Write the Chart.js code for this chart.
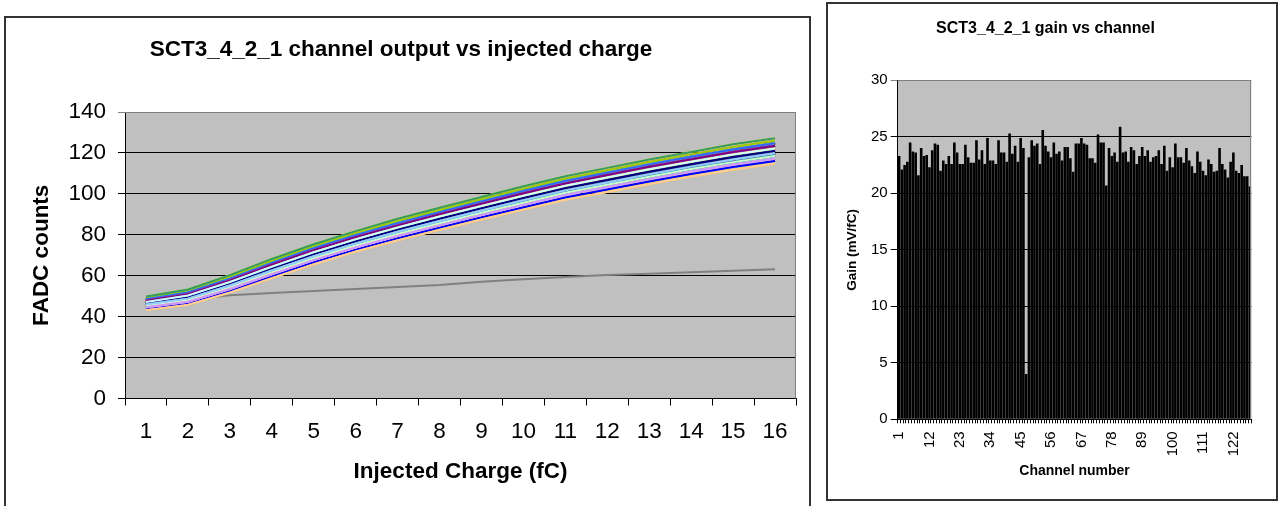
<!DOCTYPE html>
<html>
<head>
<meta charset="utf-8">
<script src="https://cdn.jsdelivr.net/npm/chart.js@4.4.0/dist/chart.umd.min.js"></script>
<style>
    body {
        margin: 0;
        width: 1278px;
        height: 506px;
        overflow: hidden;
        position: relative;
        background: #fff;
    }
    .frame {
        position: absolute;
        border: 2px solid #333;
        box-sizing: border-box;
    }
    #outputFrame { left: 4px; top: 16px; width: 807px; height: 520px; }
    #gainFrame { left: 826px; top: 2px; width: 452px; height: 499px; }
    canvas { position: absolute; }
    #outputChart { left: 6px; top: 18px; }
    #gainChart { left: 828px; top: 4px; }
</style>
</head>
<body>
<div class="frame" id="outputFrame"></div>
<div class="frame" id="gainFrame"></div>
<canvas id="outputChart" width="803" height="488"></canvas>
<canvas id="gainChart" width="448" height="495"></canvas>
<script>
// Заряд инжекции, fC
const charges = ['1', '2', '3', '4', '5', '6', '7', '8', '9', '10', '11', '12', '13', '14', '15', '16'];

// Отклик FADC по каналам (каналы 1..128)
const channelOutput = [
    [46.5,49.5,56.0,63.5,70.5,76.8,82.5,87.8,93.0,98.0,102.8,106.8,110.8,114.5,118.0,121.0],
    [45.2,48.0,54.3,61.6,68.5,74.8,80.4,85.6,90.8,95.7,100.5,104.4,108.4,112.1,115.5,118.5],
    [45.9,48.8,55.2,62.6,69.5,75.8,81.5,86.7,91.9,96.9,101.7,105.6,109.6,113.3,116.8,119.8],
    [45.9,48.8,55.2,62.6,69.5,75.8,81.5,86.7,91.9,96.9,101.7,105.6,109.6,113.3,116.8,119.8],
    [48.5,51.8,58.6,66.3,73.4,79.8,85.7,91.0,96.3,101.4,106.3,110.3,114.4,118.1,121.7,124.7],
    [47.2,50.3,56.9,64.4,71.5,77.8,83.6,88.9,94.1,99.1,104.0,108.0,112.0,115.7,119.2,122.2],
    [47.2,50.3,56.9,64.4,71.5,77.8,83.6,88.9,94.1,99.1,104.0,108.0,112.0,115.7,119.2,122.2],
    [44.6,47.3,53.5,60.7,67.6,73.8,79.4,84.6,89.7,94.6,99.4,103.3,107.2,110.9,114.3,117.3],
    [47.8,51.0,57.7,65.4,72.5,78.8,84.6,90.0,95.2,100.3,105.1,109.2,113.2,116.9,120.5,123.5],
    [46.5,49.5,56.0,63.5,70.5,76.8,82.5,87.8,93.0,98.0,102.8,106.8,110.8,114.5,118.0,121.0],
    [46.5,49.5,56.0,63.5,70.5,76.8,82.5,87.8,93.0,98.0,102.8,106.8,110.8,114.5,118.0,121.0],
    [45.2,48.0,54.3,61.6,68.5,74.8,80.4,85.6,90.8,95.7,100.5,104.4,108.4,112.1,115.5,118.5],
    [47.2,50.3,56.9,64.4,71.5,77.8,83.6,88.9,94.1,99.1,104.0,108.0,112.0,115.7,119.2,122.2],
    [47.8,51.0,57.7,65.4,72.5,78.8,84.6,90.0,95.2,100.3,105.1,109.2,113.2,116.9,120.5,123.5],
    [47.8,51.0,57.7,65.4,72.5,78.8,84.6,90.0,95.2,100.3,105.1,109.2,113.2,116.9,120.5,123.5],
    [45.2,48.0,54.3,61.6,68.5,74.8,80.4,85.6,90.8,95.7,100.5,104.4,108.4,112.1,115.5,118.5],
    [45.9,48.8,55.2,62.6,69.5,75.8,81.5,86.7,91.9,96.9,101.7,105.6,109.6,113.3,116.8,119.8],
    [45.9,48.8,55.2,62.6,69.5,75.8,81.5,86.7,91.9,96.9,101.7,105.6,109.6,113.3,116.8,119.8],
    [46.5,49.5,56.0,63.5,70.5,76.8,82.5,87.8,93.0,98.0,102.8,106.8,110.8,114.5,118.0,121.0],
    [45.9,48.8,55.2,62.6,69.5,75.8,81.5,86.7,91.9,96.9,101.7,105.6,109.6,113.3,116.8,119.8],
    [48.5,51.8,58.6,66.3,73.4,79.8,85.7,91.0,96.3,101.4,106.3,110.3,114.4,118.1,121.7,124.7],
    [47.2,50.3,56.9,64.4,71.5,77.8,83.6,88.9,94.1,99.1,104.0,108.0,112.0,115.7,119.2,122.2],
    [45.9,48.8,55.2,62.6,69.5,75.8,81.5,86.7,91.9,96.9,101.7,105.6,109.6,113.3,116.8,119.8],
    [45.9,48.8,55.2,62.6,69.5,75.8,81.5,86.7,91.9,96.9,101.7,105.6,109.6,113.3,116.8,119.8],
    [47.8,51.0,57.7,65.4,72.5,78.8,84.6,90.0,95.2,100.3,105.1,109.2,113.2,116.9,120.5,123.5],
    [46.5,49.5,56.0,63.5,70.5,76.8,82.5,87.8,93.0,98.0,102.8,106.8,110.8,114.5,118.0,121.0],
    [45.9,48.8,55.2,62.6,69.5,75.8,81.5,86.7,91.9,96.9,101.7,105.6,109.6,113.3,116.8,119.8],
    [45.9,48.8,55.2,62.6,69.5,75.8,81.5,86.7,91.9,96.9,101.7,105.6,109.6,113.3,116.8,119.8],
    [48.5,51.8,58.6,66.3,73.4,79.8,85.7,91.0,96.3,101.4,106.3,110.3,114.4,118.1,121.7,124.7],
    [46.5,49.5,56.0,63.5,70.5,76.8,82.5,87.8,93.0,98.0,102.8,106.8,110.8,114.5,118.0,121.0],
    [47.2,50.3,56.9,64.4,71.5,77.8,83.6,88.9,94.1,99.1,104.0,108.0,112.0,115.7,119.2,122.2],
    [45.9,48.8,55.2,62.6,69.5,75.8,81.5,86.7,91.9,96.9,101.7,105.6,109.6,113.3,116.8,119.8],
    [48.5,51.8,58.6,66.3,73.4,79.8,85.7,91.0,96.3,101.4,106.3,110.3,114.4,118.1,121.7,124.7],
    [45.9,48.8,55.2,62.6,69.5,75.8,81.5,86.7,91.9,96.9,101.7,105.6,109.6,113.3,116.8,119.8],
    [45.9,48.8,55.2,62.6,69.5,75.8,81.5,86.7,91.9,96.9,101.7,105.6,109.6,113.3,116.8,119.8],
    [45.9,48.8,55.2,62.6,69.5,75.8,81.5,86.7,91.9,96.9,101.7,105.6,109.6,113.3,116.8,119.8],
    [48.5,51.8,58.6,66.3,73.4,79.8,85.7,91.0,96.3,101.4,106.3,110.3,114.4,118.1,121.7,124.7],
    [47.2,50.3,56.9,64.4,71.5,77.8,83.6,88.9,94.1,99.1,104.0,108.0,112.0,115.7,119.2,122.2],
    [47.2,50.3,56.9,64.4,71.5,77.8,83.6,88.9,94.1,99.1,104.0,108.0,112.0,115.7,119.2,122.2],
    [45.9,48.8,55.2,62.6,69.5,75.8,81.5,86.7,91.9,96.9,101.7,105.6,109.6,113.3,116.8,119.8],
    [49.1,52.5,59.4,67.2,74.4,80.8,86.7,92.1,97.4,102.5,107.4,111.5,115.6,119.3,122.9,125.9],
    [47.2,50.3,56.9,64.4,71.5,77.8,83.6,88.9,94.1,99.1,104.0,108.0,112.0,115.7,119.2,122.2],
    [47.8,51.0,57.7,65.4,72.5,78.8,84.6,90.0,95.2,100.3,105.1,109.2,113.2,116.9,120.5,123.5],
    [45.9,48.8,55.2,62.6,69.5,75.8,81.5,86.7,91.9,96.9,101.7,105.6,109.6,113.3,116.8,119.8],
    [48.5,51.8,58.6,66.3,73.4,79.8,85.7,91.0,96.3,101.4,106.3,110.3,114.4,118.1,121.7,124.7],
    [47.8,51.0,57.7,65.4,72.5,78.8,84.6,90.0,95.2,100.3,105.1,109.2,113.2,116.9,120.5,123.5],
    [46.0,48.0,50.5,51.5,52.5,53.5,54.5,55.5,57.0,58.3,59.4,60.3,61.0,61.7,62.4,63.2],
    [46.5,49.5,56.0,63.5,70.5,76.8,82.5,87.8,93.0,98.0,102.8,106.8,110.8,114.5,118.0,121.0],
    [48.5,51.8,58.6,66.3,73.4,79.8,85.7,91.0,96.3,101.4,106.3,110.3,114.4,118.1,121.7,124.7],
    [47.8,51.0,57.7,65.4,72.5,78.8,84.6,90.0,95.2,100.3,105.1,109.2,113.2,116.9,120.5,123.5],
    [47.8,51.0,57.7,65.4,72.5,78.8,84.6,90.0,95.2,100.3,105.1,109.2,113.2,116.9,120.5,123.5],
    [45.9,48.8,55.2,62.6,69.5,75.8,81.5,86.7,91.9,96.9,101.7,105.6,109.6,113.3,116.8,119.8],
    [49.8,53.3,60.3,68.2,75.4,81.8,87.8,93.2,98.5,103.7,108.6,112.7,116.8,120.5,124.2,127.2],
    [47.8,51.0,57.7,65.4,72.5,78.8,84.6,90.0,95.2,100.3,105.1,109.2,113.2,116.9,120.5,123.5],
    [47.2,50.3,56.9,64.4,71.5,77.8,83.6,88.9,94.1,99.1,104.0,108.0,112.0,115.7,119.2,122.2],
    [46.5,49.5,56.0,63.5,70.5,76.8,82.5,87.8,93.0,98.0,102.8,106.8,110.8,114.5,118.0,121.0],
    [48.5,51.8,58.6,66.3,73.4,79.8,85.7,91.0,96.3,101.4,106.3,110.3,114.4,118.1,121.7,124.7],
    [47.2,50.3,56.9,64.4,71.5,77.8,83.6,88.9,94.1,99.1,104.0,108.0,112.0,115.7,119.2,122.2],
    [47.2,50.3,56.9,64.4,71.5,77.8,83.6,88.9,94.1,99.1,104.0,108.0,112.0,115.7,119.2,122.2],
    [45.9,48.8,55.2,62.6,69.5,75.8,81.5,86.7,91.9,96.9,101.7,105.6,109.6,113.3,116.8,119.8],
    [47.8,51.0,57.7,65.4,72.5,78.8,84.6,90.0,95.2,100.3,105.1,109.2,113.2,116.9,120.5,123.5],
    [47.8,51.0,57.7,65.4,72.5,78.8,84.6,90.0,95.2,100.3,105.1,109.2,113.2,116.9,120.5,123.5],
    [46.5,49.5,56.0,63.5,70.5,76.8,82.5,87.8,93.0,98.0,102.8,106.8,110.8,114.5,118.0,121.0],
    [44.6,47.3,53.5,60.7,67.6,73.8,79.4,84.6,89.7,94.6,99.4,103.3,107.2,110.9,114.3,117.3],
    [47.8,51.0,57.7,65.4,72.5,78.8,84.6,90.0,95.2,100.3,105.1,109.2,113.2,116.9,120.5,123.5],
    [47.8,51.0,57.7,65.4,72.5,78.8,84.6,90.0,95.2,100.3,105.1,109.2,113.2,116.9,120.5,123.5],
    [48.5,51.8,58.6,66.3,73.4,79.8,85.7,91.0,96.3,101.4,106.3,110.3,114.4,118.1,121.7,124.7],
    [47.8,51.0,57.7,65.4,72.5,78.8,84.6,90.0,95.2,100.3,105.1,109.2,113.2,116.9,120.5,123.5],
    [47.8,51.0,57.7,65.4,72.5,78.8,84.6,90.0,95.2,100.3,105.1,109.2,113.2,116.9,120.5,123.5],
    [46.5,49.5,56.0,63.5,70.5,76.8,82.5,87.8,93.0,98.0,102.8,106.8,110.8,114.5,118.0,121.0],
    [46.5,49.5,56.0,63.5,70.5,76.8,82.5,87.8,93.0,98.0,102.8,106.8,110.8,114.5,118.0,121.0],
    [45.9,48.8,55.2,62.6,69.5,75.8,81.5,86.7,91.9,96.9,101.7,105.6,109.6,113.3,116.8,119.8],
    [49.1,52.5,59.4,67.2,74.4,80.8,86.7,92.1,97.4,102.5,107.4,111.5,115.6,119.3,122.9,125.9],
    [48.5,51.8,58.6,66.3,73.4,79.8,85.7,91.0,96.3,101.4,106.3,110.3,114.4,118.1,121.7,124.7],
    [48.5,51.8,58.6,66.3,73.4,79.8,85.7,91.0,96.3,101.4,106.3,110.3,114.4,118.1,121.7,124.7],
    [43.3,45.8,51.8,58.8,65.6,71.8,77.3,82.4,87.5,92.3,97.1,100.9,104.8,108.5,111.8,114.8],
    [47.8,51.0,57.7,65.4,72.5,78.8,84.6,90.0,95.2,100.3,105.1,109.2,113.2,116.9,120.5,123.5],
    [46.5,49.5,56.0,63.5,70.5,76.8,82.5,87.8,93.0,98.0,102.8,106.8,110.8,114.5,118.0,121.0],
    [47.2,50.3,56.9,64.4,71.5,77.8,83.6,88.9,94.1,99.1,104.0,108.0,112.0,115.7,119.2,122.2],
    [45.9,48.8,55.2,62.6,69.5,75.8,81.5,86.7,91.9,96.9,101.7,105.6,109.6,113.3,116.8,119.8],
    [49.8,53.3,60.3,68.2,75.4,81.8,87.8,93.2,98.5,103.7,108.6,112.7,116.8,120.5,124.2,127.2],
    [47.2,50.3,56.9,64.4,71.5,77.8,83.6,88.9,94.1,99.1,104.0,108.0,112.0,115.7,119.2,122.2],
    [47.2,50.3,56.9,64.4,71.5,77.8,83.6,88.9,94.1,99.1,104.0,108.0,112.0,115.7,119.2,122.2],
    [45.9,48.8,55.2,62.6,69.5,75.8,81.5,86.7,91.9,96.9,101.7,105.6,109.6,113.3,116.8,119.8],
    [47.8,51.0,57.7,65.4,72.5,78.8,84.6,90.0,95.2,100.3,105.1,109.2,113.2,116.9,120.5,123.5],
    [47.2,50.3,56.9,64.4,71.5,77.8,83.6,88.9,94.1,99.1,104.0,108.0,112.0,115.7,119.2,122.2],
    [45.9,48.8,55.2,62.6,69.5,75.8,81.5,86.7,91.9,96.9,101.7,105.6,109.6,113.3,116.8,119.8],
    [46.5,49.5,56.0,63.5,70.5,76.8,82.5,87.8,93.0,98.0,102.8,106.8,110.8,114.5,118.0,121.0],
    [47.8,51.0,57.7,65.4,72.5,78.8,84.6,90.0,95.2,100.3,105.1,109.2,113.2,116.9,120.5,123.5],
    [46.5,49.5,56.0,63.5,70.5,76.8,82.5,87.8,93.0,98.0,102.8,106.8,110.8,114.5,118.0,121.0],
    [47.2,50.3,56.9,64.4,71.5,77.8,83.6,88.9,94.1,99.1,104.0,108.0,112.0,115.7,119.2,122.2],
    [45.9,48.8,55.2,62.6,69.5,75.8,81.5,86.7,91.9,96.9,101.7,105.6,109.6,113.3,116.8,119.8],
    [46.5,49.5,56.0,63.5,70.5,76.8,82.5,87.8,93.0,98.0,102.8,106.8,110.8,114.5,118.0,121.0],
    [46.5,49.5,56.0,63.5,70.5,76.8,82.5,87.8,93.0,98.0,102.8,106.8,110.8,114.5,118.0,121.0],
    [47.2,50.3,56.9,64.4,71.5,77.8,83.6,88.9,94.1,99.1,104.0,108.0,112.0,115.7,119.2,122.2],
    [45.9,48.8,55.2,62.6,69.5,75.8,81.5,86.7,91.9,96.9,101.7,105.6,109.6,113.3,116.8,119.8],
    [47.8,51.0,57.7,65.4,72.5,78.8,84.6,90.0,95.2,100.3,105.1,109.2,113.2,116.9,120.5,123.5],
    [45.2,48.0,54.3,61.6,68.5,74.8,80.4,85.6,90.8,95.7,100.5,104.4,108.4,112.1,115.5,118.5],
    [46.5,49.5,56.0,63.5,70.5,76.8,82.5,87.8,93.0,98.0,102.8,106.8,110.8,114.5,118.0,121.0],
    [45.2,48.0,54.3,61.6,68.5,74.8,80.4,85.6,90.8,95.7,100.5,104.4,108.4,112.1,115.5,118.5],
    [47.8,51.0,57.7,65.4,72.5,78.8,84.6,90.0,95.2,100.3,105.1,109.2,113.2,116.9,120.5,123.5],
    [46.5,49.5,56.0,63.5,70.5,76.8,82.5,87.8,93.0,98.0,102.8,106.8,110.8,114.5,118.0,121.0],
    [46.5,49.5,56.0,63.5,70.5,76.8,82.5,87.8,93.0,98.0,102.8,106.8,110.8,114.5,118.0,121.0],
    [45.9,48.8,55.2,62.6,69.5,75.8,81.5,86.7,91.9,96.9,101.7,105.6,109.6,113.3,116.8,119.8],
    [47.8,51.0,57.7,65.4,72.5,78.8,84.6,90.0,95.2,100.3,105.1,109.2,113.2,116.9,120.5,123.5],
    [45.9,48.8,55.2,62.6,69.5,75.8,81.5,86.7,91.9,96.9,101.7,105.6,109.6,113.3,116.8,119.8],
    [45.2,48.0,54.3,61.6,68.5,74.8,80.4,85.6,90.8,95.7,100.5,104.4,108.4,112.1,115.5,118.5],
    [44.6,47.3,53.5,60.7,67.6,73.8,79.4,84.6,89.7,94.6,99.4,103.3,107.2,110.9,114.3,117.3],
    [47.2,50.3,56.9,64.4,71.5,77.8,83.6,88.9,94.1,99.1,104.0,108.0,112.0,115.7,119.2,122.2],
    [45.9,48.8,55.2,62.6,69.5,75.8,81.5,86.7,91.9,96.9,101.7,105.6,109.6,113.3,116.8,119.8],
    [45.2,48.0,54.3,61.6,68.5,74.8,80.4,85.6,90.8,95.7,100.5,104.4,108.4,112.1,115.5,118.5],
    [44.6,47.3,53.5,60.7,67.6,73.8,79.4,84.6,89.7,94.6,99.4,103.3,107.2,110.9,114.3,117.3],
    [46.5,49.5,56.0,63.5,70.5,76.8,82.5,87.8,93.0,98.0,102.8,106.8,110.8,114.5,118.0,121.0],
    [45.9,48.8,55.2,62.6,69.5,75.8,81.5,86.7,91.9,96.9,101.7,105.6,109.6,113.3,116.8,119.8],
    [44.6,47.3,53.5,60.7,67.6,73.8,79.4,84.6,89.7,94.6,99.4,103.3,107.2,110.9,114.3,117.3],
    [45.2,48.0,54.3,61.6,68.5,74.8,80.4,85.6,90.8,95.7,100.5,104.4,108.4,112.1,115.5,118.5],
    [47.8,51.0,57.7,65.4,72.5,78.8,84.6,90.0,95.2,100.3,105.1,109.2,113.2,116.9,120.5,123.5],
    [45.9,48.8,55.2,62.6,69.5,75.8,81.5,86.7,91.9,96.9,101.7,105.6,109.6,113.3,116.8,119.8],
    [45.2,48.0,54.3,61.6,68.5,74.8,80.4,85.6,90.8,95.7,100.5,104.4,108.4,112.1,115.5,118.5],
    [43.9,46.5,52.6,59.8,66.6,72.8,78.3,83.5,88.6,93.5,98.2,102.1,106.0,109.7,113.1,116.1],
    [45.9,48.8,55.2,62.6,69.5,75.8,81.5,86.7,91.9,96.9,101.7,105.6,109.6,113.3,116.8,119.8],
    [47.2,50.3,56.9,64.4,71.5,77.8,83.6,88.9,94.1,99.1,104.0,108.0,112.0,115.7,119.2,122.2],
    [45.2,48.0,54.3,61.6,68.5,74.8,80.4,85.6,90.8,95.7,100.5,104.4,108.4,112.1,115.5,118.5],
    [44.6,47.3,53.5,60.7,67.6,73.8,79.4,84.6,89.7,94.6,99.4,103.3,107.2,110.9,114.3,117.3],
    [45.9,48.8,55.2,62.6,69.5,75.8,81.5,86.7,91.9,96.9,101.7,105.6,109.6,113.3,116.8,119.8],
    [44.6,47.3,53.5,60.7,67.6,73.8,79.4,84.6,89.7,94.6,99.4,103.3,107.2,110.9,114.3,117.3],
    [44.6,47.3,53.5,60.7,67.6,73.8,79.4,84.6,89.7,94.6,99.4,103.3,107.2,110.9,114.3,117.3],
    [43.3,45.8,51.8,58.8,65.6,71.8,77.3,82.4,87.5,92.3,97.1,100.9,104.8,108.5,111.8,114.8]
];

// Номера каналов
const channels = Array.from({ length: 128 }, (_, i) => String(i + 1));

// Усиление по каналам, mV/fC
const gains = [
    23.3, 22.1, 22.5, 22.8, 24.5, 23.7, 23.6, 21.6, 24.0, 23.3,
    23.4, 22.3, 23.8, 24.4, 24.3, 22.0, 22.9, 22.6, 23.3, 22.6,
    24.5, 23.6, 22.6, 22.6, 24.3, 23.2, 22.7, 22.7, 24.7, 23.0,
    23.8, 22.6, 24.9, 22.9, 22.9, 22.6, 24.7, 23.6, 23.6, 22.8,
    25.3, 23.5, 24.2, 22.8, 24.9, 24.0, 4.0, 23.2, 24.7, 24.2,
    24.4, 22.6, 25.6, 24.2, 23.7, 23.2, 24.5, 23.5, 23.7, 22.9,
    24.1, 24.1, 23.1, 21.9, 24.4, 24.4, 24.9, 24.4, 24.3, 23.1,
    23.1, 22.7, 25.2, 24.5, 24.5, 20.7, 24.0, 23.3, 23.6, 22.8,
    25.9, 23.6, 23.7, 22.8, 24.1, 23.8, 22.6, 23.3, 24.1, 23.3,
    23.8, 22.8, 23.2, 23.3, 23.8, 22.6, 24.2, 22.0, 23.2, 22.3,
    24.4, 23.2, 23.2, 22.7, 24.0, 22.9, 22.4, 21.8, 23.7, 22.8,
    22.0, 21.6, 23.0, 22.6, 21.9, 22.0, 24.0, 22.6, 22.1, 21.4,
    22.8, 23.6, 22.0, 21.8, 22.5, 21.5, 21.5, 20.6
];

// Цвета серий (по кругу на 56 каналов)
const seriesColors = [
    '#000080', '#FF00FF', '#660066', '#00FFFF', '#800080', '#800000', '#008080', '#0000FF',
    '#00CCFF', '#CCFFFF', '#CCFFCC', '#FFFF99', '#99CCFF', '#FF99CC', '#CC99FF', '#FFCC99',
    '#99CC00', '#33CCCC', '#3366FF', '#FFCC00', '#FF9900', '#FF6600', '#666699', '#969696',
    '#339966', '#003366', '#003300', '#333300', '#993300', '#993366', '#333399', '#333333',
    '#000000', '#FFFFFF', '#FF0000', '#00FF00', '#0000FF', '#FFFF00', '#FF00FF', '#00FFFF',
    '#FF8080', '#008000', '#000080', '#808000', '#800080', '#008080', '#808080', '#C0C0C0',
    '#9999FF', '#993366', '#FFFFCC', '#CCFFFF', '#FFFF00', '#800000', '#0066CC', '#CCCCFF'
];

const fontFamily = "'Liberation Sans', Arial, sans-serif";
Chart.defaults.font.family = fontFamily;
Chart.defaults.color = '#000';

// Серый фон области построения и рамка
const plotArea = {
    id: 'plotArea',
    beforeDraw(chart) {
        const { ctx, chartArea: { left, top, width, height } } = chart;
        ctx.save();
        ctx.fillStyle = '#c0c0c0';
        ctx.fillRect(left, top, width, height);
        ctx.restore();
    },
    afterDatasetsDraw(chart) {
        const { ctx, chartArea: { left, top, right, bottom } } = chart;
        ctx.save();
        ctx.strokeStyle = '#808080';
        ctx.lineWidth = 1;
        ctx.beginPath();
        ctx.moveTo(left, Math.round(top) + 0.5);
        ctx.lineTo(Math.round(right) - 0.5, Math.round(top) + 0.5);
        ctx.lineTo(Math.round(right) - 0.5, bottom);
        ctx.stroke();
        ctx.restore();
    }
};

// График выхода каналов от заряда
function renderOutput() {
    const datasets = channelOutput.map((values, i) => ({
        data: values,
        borderColor: seriesColors[i % seriesColors.length],
        backgroundColor: seriesColors[i % seriesColors.length],
        borderWidth: 2,
        pointRadius: 0,
        tension: 0,
        order: channelOutput.length - i,
    }));

    new Chart(document.getElementById('outputChart'), {
        type: 'line',
        data: { labels: charges, datasets },
        options: {
            responsive: false,
            animation: false,
            events: [],
            layout: { padding: { left: 0, right: 13, top: 0, bottom: 0 } },
            plugins: {
                legend: { display: false },
                tooltip: { enabled: false },
                title: {
                    display: true,
                    text: 'SCT3_4_2_1 channel output vs injected charge',
                    font: { size: 22.5, weight: 'bold' },
                    padding: { top: 18.5, bottom: 48.5 },
                },
            },
            scales: {
                x: {
                    offset: true,
                    grid: { offset: true, drawOnChartArea: false, tickLength: 7, color: '#000' },
                    border: { color: '#000', width: 1 },
                    ticks: { font: { size: 22.5 }, padding: 13, maxRotation: 0 },
                    title: {
                        display: true,
                        text: 'Injected Charge (fC)',
                        font: { size: 22.5, weight: 'bold' },
                        padding: { top: 0, bottom: 21 },
                    },
                    afterFit(scale) { scale.height = 107.5; },
                },
                y: {
                    min: 0,
                    max: 140,
                    ticks: { stepSize: 20, font: { size: 22.5 }, padding: 12 },
                    grid: { tickLength: 7, color: (c) => (c.tick && c.tick.value === 140 ? '#808080' : '#000') },
                    border: { color: '#000', width: 1 },
                    title: {
                        display: true,
                        text: 'FADC counts',
                        font: { size: 22.5, weight: 'bold' },
                        padding: { top: 22, bottom: 0 },
                    },
                    afterFit(scale) { scale.width = 119; },
                },
            },
        },
        plugins: [plotArea],
    });
}

// Гистограмма усиления по каналам
function renderGain() {
    new Chart(document.getElementById('gainChart'), {
        type: 'bar',
        data: {
            labels: channels,
            datasets: [{
                data: gains,
                backgroundColor: '#000',
                barPercentage: 1,
                categoryPercentage: 0.95,
            }],
        },
        options: {
            responsive: false,
            animation: false,
            events: [],
            layout: { padding: { left: 0, right: 13, top: 0, bottom: 0 } },
            plugins: {
                legend: { display: false },
                tooltip: { enabled: false },
                title: {
                    display: true,
                    text: 'SCT3_4_2_1 gain vs channel',
                    font: { size: 16, weight: 'bold' },
                    padding: { top: 14.5, bottom: 42.6 },
                },
            },
            scales: {
                x: {
                    grid: { offset: true, drawOnChartArea: false, tickLength: 4, color: '#000' },
                    border: { color: '#000', width: 1 },
                    ticks: {
                        autoSkip: false,
                        minRotation: 90,
                        maxRotation: 90,
                        padding: 8,
                        font: { size: 15 },
                        callback: (value, index) => (index % 11 === 0 ? channels[index] : ''),
                    },
                    title: {
                        display: true,
                        text: 'Channel number',
                        font: { size: 14, weight: 'bold' },
                        padding: { top: 0, bottom: 19 },
                    },
                    afterFit(scale) { scale.height = 79.7; },
                },
                y: {
                    min: 0,
                    max: 30,
                    ticks: { stepSize: 5, font: { size: 15 }, padding: 3 },
                    grid: { tickLength: 7, color: (c) => (c.tick && c.tick.value === 30 ? '#808080' : '#000') },
                    border: { color: '#000', width: 1 },
                    title: {
                        display: true,
                        text: 'Gain (mV/fC)',
                        font: { size: 13.5, weight: 'bold' },
                        padding: { top: 16, bottom: 0 },
                    },
                    afterFit(scale) { scale.width = 69.7; },
                },
            },
        },
        plugins: [plotArea],
    });
}

document.addEventListener('DOMContentLoaded', () => {
    renderOutput();
    renderGain();
});
</script>
</body>
</html>
